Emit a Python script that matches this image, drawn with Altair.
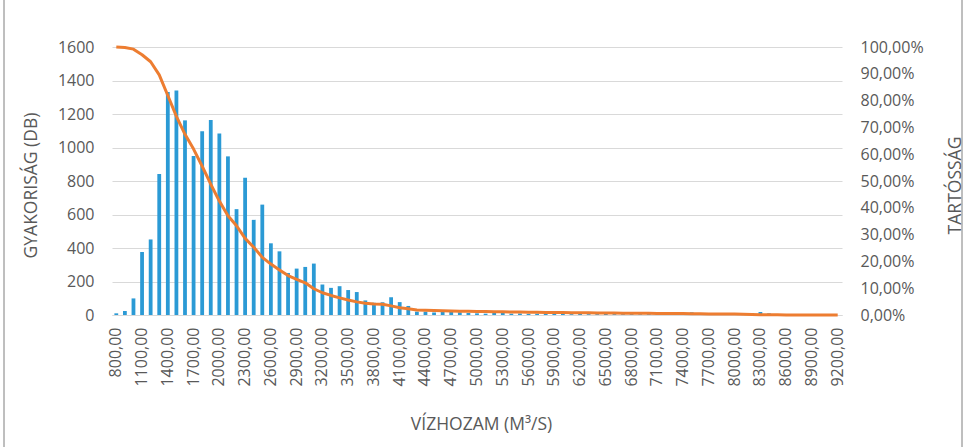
import altair as alt
import pandas as pd

# --- data ---
bins = list(range(800, 9300, 100))  # bin starts (m3/s)

counts = [
    10, 24, 99, 376, 451, 842, 1331, 1341, 1162, 950,
    1097, 1164, 1083, 947, 632, 820, 568, 659, 428, 380,
    251, 277, 287, 307, 182, 162, 172, 149, 137, 87,
    73, 76, 106, 77, 54, 20, 20, 15, 21, 20,
    16, 12, 10, 8, 12, 12,
    8, 9, 7, 8, 6, 7, 6, 5, 6, 5,
    5, 6, 5, 4, 5, 4, 5, 4, 4, 5,
    6, 16, 5, 4, 5, 4, 6, 10, 12, 18,
    10, 3, 2, 2, 1, 1, 1, 1, 0,
]

tartossag = [
    100.0, 99.8, 99.2, 97.1, 94.5, 89.6, 81.9, 74.1, 67.4, 61.9,
    55.5, 48.8, 42.5, 37.0, 33.3, 28.6, 25.3, 21.5, 19.0, 16.8,
    14.7, 13.3, 12.0, 9.8, 8.3, 7.3, 6.4, 5.6, 4.9, 4.4,
    4.1, 4.0, 3.4, 2.7, 2.3, 1.9, 1.8, 1.7, 1.6, 1.5,
    1.4, 1.4, 1.3, 1.3, 1.2, 1.2,
    1.1, 1.1, 1.0, 1.0, 0.97, 0.93, 0.9, 0.87, 0.84, 0.8,
    0.77, 0.74, 0.71, 0.68, 0.65, 0.63, 0.61, 0.59, 0.57, 0.55,
    0.52, 0.45, 0.43, 0.41, 0.39, 0.37, 0.34, 0.28, 0.21, 0.11,
    0.06, 0.05, 0.04, 0.03, 0.02, 0.02, 0.01, 0.01, 0.0,
]

labels = [f"{b},00" for b in bins]
shown_labels = labels[::3]

df = pd.DataFrame({"cat": labels, "count": counts, "pct": tartossag})

FONT = "Open Sans"
TXT = "#595959"
BLUE = "#2B9AD5"
ORANGE = "#ED7D31"
GRID = "#D9D9D9"

W, H = 730, 268
LEFT, TOP = 112, 47

x_enc = alt.X(
    "cat:O",
    sort=labels,
    scale=alt.Scale(paddingInner=0, paddingOuter=0),
    axis=alt.Axis(
        title="VÍZHOZAM (M³/S)",
        values=shown_labels,
        labelAngle=270,
        labelFont=FONT, labelFontSize=16, labelColor=TXT,
        labelPadding=12,
        ticks=False, domain=True, domainColor=GRID, domainWidth=1,
        titleFont=FONT, titleFontSize=17.5, titleFontWeight="normal", titleColor=TXT,
        titleX=W / 2 + 4, titleY=109, titleAlign="center", titleBaseline="middle",
        grid=False,
    ),
)

bars = alt.Chart(df).mark_bar(size=3.8, color=BLUE).encode(
    x=x_enc,
    y=alt.Y(
        "count:Q",
        scale=alt.Scale(domain=[0, 1600], nice=False),
        axis=alt.Axis(
            title="GYAKORISÁG (DB)",
            values=[0, 200, 400, 600, 800, 1000, 1200, 1400, 1600],
            format="d",
            labelFont=FONT, labelFontSize=16, labelColor=TXT, labelPadding=18,
            ticks=False, domain=False,
            grid=True, gridColor=GRID, gridWidth=1.2,
            titleFont=FONT, titleFontSize=17.5, titleFontWeight="normal", titleColor=TXT,
            titleAngle=270, titleX=31 - LEFT, titleY=H / 2 + 4,
            titleAlign="center", titleBaseline="middle",
        ),
    ),
)

line = alt.Chart(df).mark_line(color=ORANGE, strokeWidth=3, strokeJoin="round").encode(
    x=alt.X("cat:O", sort=labels),
    y=alt.Y(
        "pct:Q",
        scale=alt.Scale(domain=[0, 100], nice=False),
        axis=alt.Axis(
            title="TARTÓSSÁG",
            orient="right",
            values=[0, 10, 20, 30, 40, 50, 60, 70, 80, 90, 100],
            labelExpr="replace(format(datum.value, '.2f'), '.', ',') + '%'",
            labelFont=FONT, labelFontSize=16, labelColor=TXT, labelPadding=18,
            ticks=False, domain=False, grid=False,
            titleFont=FONT, titleFontSize=17.5, titleFontWeight="normal", titleColor=TXT,
            titleAngle=270, titleX=955 - (LEFT + W), titleY=H / 2 + 4,
            titleAlign="center", titleBaseline="middle",
        ),
    ),
)

frame = alt.Chart(df.head(1)).mark_rect(filled=False, stroke="#7F7F7F", strokeWidth=1).encode(
    x=alt.value(4 - LEFT),
    x2=alt.value(962 - LEFT),
    y=alt.value(-80),
    y2=alt.value(480),
)

chart = (
    alt.layer(bars, line, frame)
    .resolve_scale(y="independent")
    .properties(
        width=W,
        height=H,
        autosize=alt.AutoSizeParams(type="none"),
        padding={"left": LEFT, "top": TOP, "right": 966 - LEFT - W, "bottom": 447 - TOP - H},
        background="white",
    )
    .configure_view(stroke=None)
)

chart.save("out.html", embed_options={"renderer": "svg", "actions": False})
